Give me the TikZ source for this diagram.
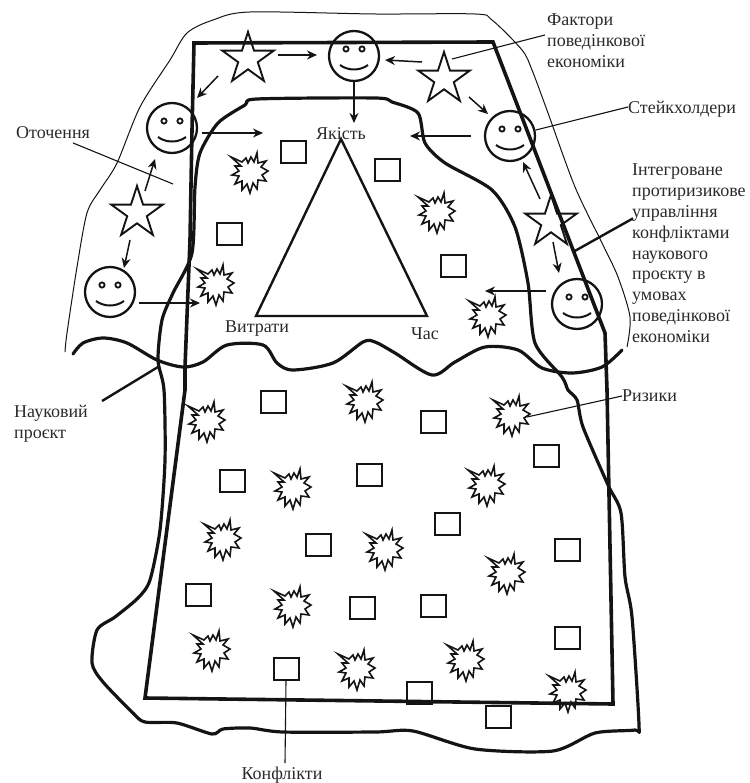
\documentclass[tikz,border=0pt]{standalone}
\usepackage{fontspec}
\setmainfont{Liberation Serif}
\usetikzlibrary{arrows.meta,shapes.geometric}
\definecolor{ink}{HTML}{141414}
\definecolor{txt}{HTML}{2A2A2A}
\tikzset{
  thinedge/.style={draw=ink,line width=1pt},
  boldedge/.style={draw=ink,line width=3.2pt,line join=round,line cap=round},
  frameedge/.style={draw=ink,line width=3.6pt,line join=miter},
  starnode/.style={star,star points=5,star point ratio=2.618,draw=ink,line width=1.9pt,minimum size=54pt,inner sep=0pt},
  facenode/.style={circle,draw=ink,line width=2.3pt,minimum size=50pt,inner sep=0pt},
  boxnode/.style={rectangle,draw=ink,line width=2pt,minimum width=25pt,minimum height=22pt,inner sep=0pt},
  burstnode/.style={circle,minimum size=28pt,inner sep=0pt},
  burstline/.style={draw=ink,line width=1.6pt,line join=miter,miter limit=8},
  labeltext/.style={inner sep=0pt,text=txt,align=left,font=\fontsize{18}{20.8}\selectfont},
  flow/.style={draw=ink,line width=1.5pt,-{Stealth[length=10pt,width=9pt]}},
  leader/.style={draw=ink,line width=1.1pt},
  leaderbold/.style={draw=ink,line width=2.4pt},
}
\newcommand{\faceat}[3]{%
  \node[facenode] (#1) at (#2,#3) {};
  \begin{scope}[shift={(#2,#3)}]
    \draw[draw=ink,line width=1.8pt] (-8,-7) circle (2.6);
    \draw[draw=ink,line width=1.8pt] (8,-7) circle (2.6);
    \draw[draw=ink,line width=2pt] (-14,9) .. controls (-6,15) and (6,15) .. (14,9);
  \end{scope}}
\newcommand{\burstat}[3]{%
  \node[burstnode] (#1) at (#2,#3) {};
  \draw[burstline,shift={(#2,#3)}] (-19,-16)--(-8,-11)--(-4,-15)--(-2,-10)--(1,-16)--(4,-11)--(7,-20)--(8,-10)--(16,-12)--(11,-6)--(18,-2)--(12,2)--(16,8)--(8,7)--(7,16)--(3,10)--(0,20)--(-3,11)--(-8,17)--(-8,8)--(-15,11)--(-11,3)--(-18,2)--(-11,-2)--(-15,-7)--(-9,-7)--cycle;}
\newcommand{\flowarrow}[4]{\draw[flow] ([shift={(#2)}]#1.center) -- ([shift={(#4)}]#3.center);}
\begin{document}
\begin{tikzpicture}[x=1pt,y=-1pt]
\useasboundingbox (0,0) rectangle (749,783);
% outer thin curve
\draw[thinedge] plot[smooth,tension=0.5] coordinates {(65,352)(67,333)(77,267)(87,213)(100,190)(117,163)(140,107)(170,60)(187,33)(213,20)(250,12)(375,14)(475,14)(492,20)(522,50)(532,70)(548,113)(575,187)(602,243)(618,277)(630,317)(627,347)};
% project boundary
\draw[boldedge] plot[smooth cycle,tension=0.45] coordinates {(375,98)(257,99)(245,105)(218,123)(200,153)(195,187)(192,253)(173,293)(162,320)(158,360)(164,390)(165,460)(160,530)(150,580)(138,598)(115,617)(97,630)(92,663)(103,682)(133,713)(145,722)(177,723)(212,734)(223,729)(250,728)(283,732)(375,732)(413,731)(475,749)(553,751)(595,733)(635,730)(639,725)(632,617)(625,577)(621,513)(608,485)(583,427)(577,400)(568,390)(562,377)(535,343)(528,283)(515,227)(492,190)(445,163)(425,143)(418,113)(392,102)};
% wave
\draw[boldedge] plot[smooth,tension=0.5] coordinates {(73,354)(83,343)(103,338)(127,343)(157,360)(183,367)(203,362)(227,345)(263,345)(277,363)(293,370)(333,363)(363,342)(375,342)(395,353)(432,375)(455,362)(485,347)(518,350)(542,368)(572,373)(602,367)(622,350)};
% frame
\draw[frameedge] (194,43) -- (493,42) -- (605,333) -- (607,390) -- (613,704) -- (145,698) -- (185,390) -- (185,367) -- (190,240) -- (192,130) -- cycle;
% triangle
\draw[draw=ink,line width=2.4pt,line join=miter] (341,139) -- (256,316) -- (427,316) -- cycle;
% boxes
\foreach \n/\x/\y in {b1/293/152,b2/229/234,b3/387/170,b4/453/266,b5/273/402,b6/232/481,b7/318/545,b8/198/595,b9/362/608,b10/286/669,b11/369/475,b12/433/422,b13/546/456,b14/447/524,b15/567/550,b16/433/606,b17/567/638,b18/419/693,b19/498/717}
  \node[boxnode] (\n) at (\x,\y) {};
% bursts
\burstat{r1}{250}{173}\burstat{r2}{216}{285}\burstat{r3}{437}{213}\burstat{r4}{488}{317}
\burstat{r5}{207}{422}\burstat{r6}{293}{489}\burstat{r7}{223}{540}\burstat{r8}{293}{607}
\burstat{r9}{212}{651}\burstat{r10}{357}{670}\burstat{r11}{365}{402}\burstat{r12}{512}{416}
\burstat{r13}{487}{486}\burstat{r14}{385}{550}\burstat{r15}{507}{574}\burstat{r16}{466}{661}\burstat{r17}{568}{692}
% stars
\node[starnode] (s1) at (248,59) {};
\node[starnode] (s2) at (444,79) {};
\node[starnode] (s3) at (137,213) {};
\node[starnode] (s4) at (551,222) {};
% faces
\faceat{f1}{354}{56}\faceat{f2}{172}{128}\faceat{f3}{110}{292}\faceat{f4}{510}{136}\faceat{f5}{577}{304}
% labels
\node[labeltext,anchor=center] (q) at (341,134) {Якість};
\node[labeltext,anchor=center] (lv) at (257,329) {Витрати};
\node[labeltext,anchor=center] (lc) at (425,334) {Час};
\node[labeltext,anchor=west] (lo) at (16,133) {Оточення};
\node[labeltext,anchor=north west] (lf) at (547,14) {Фактори\\поведінкової\\економіки};
\node[labeltext,anchor=west] (ls) at (628,109) {Стейкхолдери};
\node[labeltext,anchor=north west] (li) at (632,164) {Інтегроване\\протиризикове\\управління\\конфліктами\\наукового\\проєкту в\\умовах\\поведінкової\\економіки};
\node[labeltext,anchor=north west] (ln) at (14,405) {Науковий\\проєкт};
\node[labeltext,anchor=west] (lr) at (622,396) {Ризики};
\node[labeltext,anchor=center] (lk) at (282,775) {Конфлікти};
% arrows
\flowarrow{s1}{30,-4}{f1}{-37,-1}
\flowarrow{s1}{-30,17}{f2}{25,-30}
\flowarrow{f1}{0,24}{q}{13,-11}
\flowarrow{s2}{-22,-17}{f1}{31,4}
\flowarrow{s2}{25,18}{f4}{-22,-22}
\flowarrow{f4}{-39,0}{q}{69,2}
\flowarrow{s4}{-11,-23}{f4}{13,26}
\flowarrow{s4}{2,20}{f5}{-18,-31}
\flowarrow{f5}{-31,-13}{r4}{-3,-26}
\flowarrow{f2}{30,5}{q}{-78,-1}
\flowarrow{s3}{8,-22}{f2}{-17,31}
\flowarrow{s3}{-7,27}{f3}{14,-24}
\flowarrow{f3}{29,11}{r2}{-16,18}
% leaders
\coordinate (lo-end) at (173,184);
\coordinate (li-end) at (573,252);
\coordinate (ln-end) at (158,367);
\draw[leader] ([shift={(20,10)}]lo.center) -- (lo-end);
\draw[leader] ([shift={(8,-20)}]s2.center) -- ([shift={(-2,-6)}]lf.west);
\draw[leader] (f4.13) -- ([shift={(0,-2)}]ls.west);
\draw[leaderbold] (li-end) -- ([shift={(1,-35)}]li.west);
\draw[leaderbold] ([shift={(51,-4)}]ln.north) -- (ln-end);
\draw[leader] ([shift={(15,1)}]r12.center) -- (lr.west);
\draw[leader] (b10.south) -- ([shift={(3,-12)}]lk.center);
\end{tikzpicture}
\end{document}
